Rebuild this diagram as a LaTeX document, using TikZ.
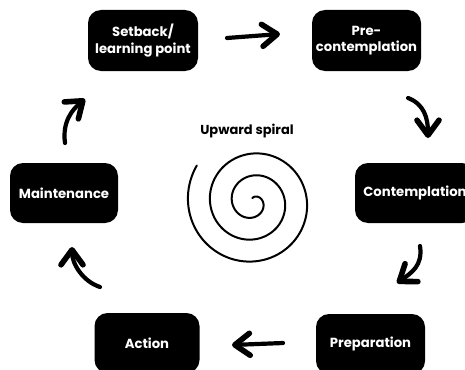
\documentclass[tikz,border=0pt]{standalone}
\usepackage{fontspec}
\setmainfont{Poppins}
\usetikzlibrary{arrows.meta}
\begin{document}
\begin{tikzpicture}[x=1pt,y=-1pt,
  stage/.style={fill=black,rounded corners=13pt,text=white,align=center,
    inner sep=0pt,font=\fontsize{13.2}{16.5}\selectfont\bfseries},
  flow/.style={line width=4.2pt,line cap=round,line join=round,
    -{Straight Barb[length=15pt,width=22pt,line width=5.6pt,line cap=round,line join=round]}},
  coil/.style={line width=2pt,line cap=round}]
  \useasboundingbox (0,0) rectangle (465,369);

  % the six stages of change
  \node[stage,minimum width=110pt,minimum height=61pt] (setback) at (143,40.5) {Setback/\\learning point};
  \node[stage,minimum width=109pt,minimum height=61pt] (pre) at (366.5,40.5) {Pre-\\contemplation};
  \node[stage,minimum width=108pt,minimum height=60pt] (maint) at (64,193) {Maintenance};
  \node[stage,minimum width=120pt,minimum height=60pt] (contemp) at (415,193) {Contemplation};
  \node[stage,minimum width=105pt,minimum height=60pt] (action) at (147,343) {Action};
  \node[stage,minimum width=109pt,minimum height=60pt] (prep) at (370.5,344) {Preparation};

  % arrow end points between the stages
  \coordinate (a1) at (227,38);  \coordinate (b1) at (280,34);
  \coordinate (a2) at (408,98);  \coordinate (b2) at (428,138);
  \coordinate (a3) at (420,246); \coordinate (b3) at (397,283);
  \coordinate (a4) at (283,343); \coordinate (b4) at (232,345);
  \coordinate (a5) at (100,287); \coordinate (b5) at (72,247);
  \coordinate (a6) at (65,143);  \coordinate (b6) at (85,99);

  \draw[flow] (a1) -- (b1);
  \draw[flow] (a2) .. controls +(16,6) and +(0,-20) .. (b2);
  \draw[flow] (a3) .. controls +(3,20) and +(14,-10) .. (b3);
  \draw[flow] (a4) -- (b4);
  \draw[flow] (a5) .. controls +(-18,-6) and +(0,16) .. (b5);
  \draw[flow] (a6) .. controls +(-3,-22) and +(-12,10) .. (b6);

  % central spiral and its caption
  \node[font=\fontsize{13}{15}\selectfont\bfseries] (cap) at (247,131) {Upward spiral};
  \coordinate (hub) at (253,202);
  \draw[coil] plot[domain=100:-933,samples=300,smooth]
    ({253+(10-22*\x/360)*cos(\x)},{202-(10-22*\x/360)*sin(\x)});
\end{tikzpicture}
\end{document}
